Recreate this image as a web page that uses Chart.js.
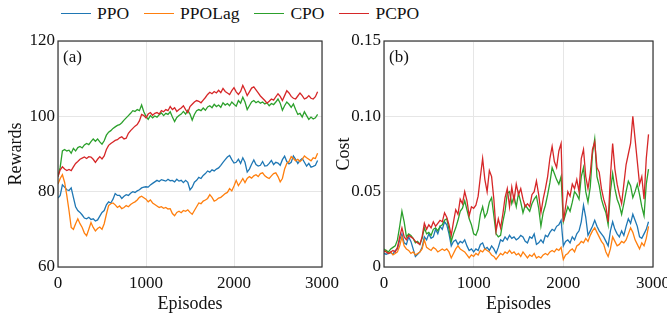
<!DOCTYPE html>
<html lang="en">
<head>
    <meta charset="UTF-8">
    <title>Rewards and Cost</title>
    <style>
        body, html {
            margin: 0;
            padding: 0;
            width: 667px;
            height: 321px;
            overflow: hidden;
            background: #fff;
            font-family: 'Liberation Serif', 'Times New Roman', serif;
        }
        #legend {
            position: absolute;
            top: 3px;
            left: 61px;
            display: flex;
            align-items: center;
            font-size: 17.5px;
            color: #111;
        }
        .item { display: flex; align-items: center; margin-right: 15px; }
        .swatch { width: 30px; height: 1.6px; margin-right: 6px; }
        .panel { position: absolute; top: 0; }
    </style>
</head>
<body>

<div id="legend"></div>
<div class="panel" style="left:0"><canvas id="rewardChart" width="345" height="321"></canvas></div>
<div class="panel" style="left:333px"><canvas id="costChart" width="345" height="321"></canvas></div>

<script src="https://cdn.jsdelivr.net/npm/chart.js"></script>
<script>
    // sampled every 25 episodes, 0..2950
    const episodes = Array.from({ length: 119 }, (_, i) => i * 25);

    const seriesNames = ['PPO', 'PPOLag', 'CPO', 'PCPO'];
    const seriesColors = ['#1f77b4', '#ff7f0e', '#2ca02c', '#d62728'];

    const rewardPPO = [
        78.3, 79, 81.8, 81.2, 80.5, 80.3, 81, 78.5, 76, 75, 74.5, 73.8, 73, 72.8, 73.2, 72.6, 72.8, 72.2, 72.5, 73.5,
        74.5, 75, 76.5, 77.3, 77, 78, 79.5, 79, 79, 78.2, 78.8, 79.2, 79, 79.6, 80, 79.8, 80.2, 80.5, 81, 81.2,
        81.3, 81.2, 81.8, 82.2, 82.6, 83, 82.7, 83.2, 83, 82.8, 83.3, 82.9, 83, 82.6, 83.3, 82.8, 83, 82.4, 83, 82.5,
        80.5, 81.2, 82.5, 83, 83.8, 83.5, 84.3, 84.8, 85.5, 85.2, 85.8, 85.5, 86, 86.3, 87, 87.8, 88.5, 89.2, 89.6, 88.5,
        87.6, 87.8, 88.6, 87.5, 89, 87.8, 85.2, 86, 87.3, 88.4, 87.2, 86.8, 87, 88, 86.8, 86.9, 87.5, 88.3, 87.2, 87.8,
        87.6, 87, 88.5, 89.4, 88, 87.4, 87.8, 89.5, 88.6, 87.5, 88.3, 88.8, 87.8, 86.8, 87.5, 86.5, 86.7, 87, 88.3
    ];
    const rewardPPOLag = [
        82, 83.5, 84.5, 82.5, 79, 75, 70.5, 70, 71.5, 72.8, 71.5, 70.5, 69, 68.3, 70, 71.8, 70.5, 69.6, 70.2, 70.6,
        70, 71.5, 74, 76.3, 76.8, 77, 76.5, 75.8, 76.2, 75.5, 75.8, 76.3, 76, 76.6, 77, 77.3, 77.8, 78.5, 78.8, 78.4,
        78, 77.3, 77.8, 77, 76.6, 76.2, 75.8, 76, 75.6, 75.8, 75.4, 75.5, 74.2, 73.6, 74.5, 74.8, 74.4, 75, 74.8, 75.2,
        74.5, 74, 75, 76, 77, 76.8, 77.5, 77.8, 78.2, 79.2, 78.5, 77.5, 77.8, 78.3, 78.5, 79, 79.5, 79.8, 80.8, 80.2,
        81.5, 83, 81.6, 82.5, 83.5, 82.4, 83.5, 84, 83.6, 84.2, 84.5, 84, 84.8, 85, 84.2, 83.8, 83.5, 84.2, 84.8, 85,
        84, 82.6, 83.5, 86, 87.5, 88, 89.3, 88.8, 88.2, 88.6, 88, 88.5, 89.5, 89, 88.6, 88.2, 89, 88.8, 90.2
    ];
    const rewardCPO = [
        84, 86.5, 90.8, 91.2, 90.8, 91, 90.2, 91.5, 90.8, 91.7, 92, 91.6, 92.4, 92.8, 92.5, 93.3, 94, 93.4, 94, 93.2,
        92.6, 93.5, 95, 95.8, 96.2, 96.8, 97.2, 97.6, 97.8, 98.3, 99, 99.6, 100.2, 100.8, 101.5, 101.3, 101.8, 101.5, 103, 101.2,
        100, 99.2, 100.2, 99.6, 100.1, 99.8, 100.4, 100.9, 100.2, 100.8, 100.5, 101.2, 99.8, 98.6, 99.7, 100.2, 100.6, 101.3, 100.6, 101.6,
        100.6, 99, 100.5, 101.5, 101.8, 101.5, 102.2, 101.6, 102.5, 102.8, 102.3, 103.2, 102.6, 103, 102.4, 103.6, 103, 103.4, 102.8, 103.8,
        103.2, 102.7, 104.2, 103.5, 105.1, 103.8, 101.8, 102.8, 103.8, 104.2, 103.6, 104, 103.5, 103.8, 103.3, 103.6, 102.8, 103.4, 103.1, 103.8,
        104.6, 103.5, 101.6, 102.8, 103.8, 103.2, 102.4, 103.3, 101.8, 100.5, 100.8, 99.8, 101.2, 100.2, 99.2, 99.8, 99.3, 99.6, 100.5
    ];
    const rewardPCPO = [
        84, 85.8, 86.6, 86, 85.6, 85.9, 85.6, 86.6, 87.5, 88, 88.6, 88.9, 89.2, 88.8, 89.3, 89.2, 88.6, 87.8, 88.6, 89.3,
        88.7, 89.5, 91.2, 92.3, 92.8, 93.2, 93.6, 93.8, 94.3, 94.6, 94, 94.2, 95.5, 96.2, 96.8, 97.4, 97.8, 98.8, 100.5, 100.2,
        99.6, 100.6, 101, 100.3, 100.8, 101, 100.6, 101.5, 101.2, 101.8, 101.5, 102.6, 101.8, 102.3, 101.3, 101.8, 102.2, 102.8, 101.8, 101,
        102.6, 103.2, 103.8, 104.2, 104, 103.6, 104.3, 105, 105.8, 106.4, 106, 106.6, 106.2, 106.9, 106.3, 107.4, 106.6, 106.2, 105.8, 106.8,
        107.6, 106.5, 105.8, 106.6, 108.2, 107, 105.5, 106.5, 107.5, 107.8, 107, 106.2, 105.4, 104.8, 104.2, 103.5, 104, 104.6, 104.3, 105.2,
        106, 105.3, 104.2, 105.5, 106.8, 106.2, 105.3, 104.8, 104.6, 105.4, 106.2, 105.5, 104.6, 104.9, 105.5, 104.8, 104.6, 105.2, 106.5
    ];

    const costPPO = [
        .009, .0085, .009, .0095, .0085, .011, .012, .018, .022, .016, .015, .02, .017, .012, .007, .0085, .01, .013, .02, .018,
        .022, .019, .02, .025, .022, .027, .025, .03, .028, .022, .014, .017, .018, .015, .017, .016, .018, .014, .011, .012,
        .01, .012, .011, .015, .016, .012, .013, .011, .014, .012, .009, .013, .018, .017, .02, .018, .021, .019, .02, .018,
        .019, .021, .02, .017, .016, .02, .019, .022, .015, .016, .018, .016, .021, .02, .023, .025, .024, .027, .028, .031,
        .014, .017, .018, .016, .02, .018, .022, .024, .03, .041, .033, .021, .024, .027, .031, .027, .024, .022, .02, .017,
        .014, .024, .03, .025, .022, .02, .024, .021, .027, .032, .029, .035, .031, .027, .02, .019, .022, .025, .03
    ];
    const costPPOLag = [
        .01, .011, .009, .01, .008, .009, .01, .014, .02, .014, .012, .011, .009, .01, .008, .009, .01, .012, .018, .013,
        .012, .011, .013, .012, .01, .011, .012, .011, .012, .01, .006, .009, .012, .014, .012, .011, .01, .008, .006, .008,
        .007, .009, .008, .011, .01, .012, .011, .01, .008, .007, .005, .007, .009, .008, .01, .009, .011, .009, .01, .008,
        .009, .007, .01, .008, .006, .008, .007, .009, .006, .007, .006, .008, .009, .008, .01, .011, .01, .012, .011, .013,
        .005, .008, .009, .011, .012, .01, .014, .015, .017, .016, .019, .017, .021, .024, .026, .023, .02, .017, .015, .01,
        .007, .012, .02, .017, .014, .015, .017, .016, .018, .022, .026, .023, .018, .015, .012, .016, .014, .019, .027
    ];
    const costCPO = [
        .012, .011, .01, .012, .013, .014, .018, .027, .037, .03, .02, .022, .021, .019, .016, .017, .015, .019, .026, .022,
        .023, .021, .025, .026, .024, .027, .028, .031, .032, .025, .017, .022, .026, .031, .037, .039, .044, .038, .032, .028,
        .022, .021, .025, .035, .04, .033, .036, .043, .046, .034, .022, .02, .021, .03, .037, .049, .05, .042, .047, .04,
        .049, .043, .036, .041, .039, .037, .042, .045, .047, .039, .027, .036, .041, .048, .056, .066, .062, .058, .055, .06,
        .03, .035, .04, .037, .043, .05, .048, .045, .06, .066, .05, .043, .053, .075, .085, .06, .054, .045, .04, .036,
        .028, .05, .062, .052, .045, .041, .035, .042, .05, .057, .054, .046, .05, .055, .048, .04, .034, .055, .065
    ];
    const costPCPO = [
        .011, .01, .009, .01, .011, .01, .013, .02, .026, .02, .018, .021, .02, .019, .017, .016, .015, .02, .029, .025,
        .028, .026, .03, .027, .029, .031, .03, .036, .033, .028, .021, .03, .038, .035, .045, .042, .05, .044, .034, .04,
        .039, .041, .047, .06, .072, .058, .05, .064, .06, .045, .024, .032, .026, .035, .046, .052, .04, .053, .044, .055,
        .048, .052, .045, .04, .042, .04, .048, .05, .057, .048, .036, .045, .052, .06, .072, .08, .07, .066, .077, .082,
        .03, .04, .05, .047, .055, .052, .058, .05, .072, .078, .06, .052, .062, .078, .083, .066, .063, .052, .045, .04,
        .03, .06, .082, .065, .055, .048, .042, .055, .068, .075, .082, .1, .085, .07, .055, .06, .045, .072, .088
    ];

    const serif = "'Liberation Serif', 'Times New Roman', serif";
    Chart.defaults.font.family = serif;
    Chart.defaults.color = '#111';

    // legend across the top
    const legendEl = document.getElementById('legend');
    seriesNames.forEach((name, i) => {
        const item = document.createElement('div');
        item.className = 'item';
        item.innerHTML = '<span class="swatch" style="background:' + seriesColors[i] + '"></span>' + name;
        legendEl.appendChild(item);
    });

    // frame around the plot area + panel tag like (a)
    const framePlugin = {
        id: 'frame',
        afterDraw(chart, args, opts) {
            const { ctx, chartArea: a } = chart;
            ctx.save();
            ctx.strokeStyle = '#333';
            ctx.lineWidth = 1.2;
            ctx.strokeRect(a.left, a.top, a.right - a.left, a.bottom - a.top);
            ctx.fillStyle = '#111';
            ctx.font = '17px ' + serif;
            ctx.textBaseline = 'alphabetic';
            ctx.fillText(opts.tag, a.left + 5, a.top + 21);
            ctx.restore();
        }
    };

    function makeDatasets(values) {
        return values.map((vals, i) => ({
            label: seriesNames[i],
            data: vals.map((v, j) => ({ x: episodes[j], y: v })),
            borderColor: seriesColors[i],
            borderWidth: 1.3,
            pointRadius: 0,
            fill: false,
            order: 3 - i
        }));
    }

    function makeChart(canvasId, values, tag, yTitle, yMin, yMax, yStep, yWidth, yTitlePad, padRight, tickFmt) {
        return new Chart(document.getElementById(canvasId), {
            type: 'line',
            data: { datasets: makeDatasets(values) },
            plugins: [framePlugin],
            options: {
                responsive: false,
                animation: false,
                layout: { padding: { top: 41, right: padRight, left: 0, bottom: 0 } },
                plugins: {
                    legend: { display: false },
                    tooltip: { enabled: false },
                    frame: { tag: tag }
                },
                scales: {
                    x: {
                        type: 'linear',
                        min: 0,
                        max: 3000,
                        afterFit: s => { s.height = 54; },
                        ticks: { stepSize: 1000, font: { size: 17 }, padding: 6, maxRotation: 0, callback: v => String(v) },
                        grid: { color: '#e6e6e6', drawTicks: false },
                        border: { display: false },
                        title: { display: true, text: 'Episodes', font: { size: 18 }, padding: { top: 0, bottom: 6 } }
                    },
                    y: {
                        min: yMin,
                        max: yMax,
                        afterFit: s => { s.width = yWidth; },
                        ticks: { stepSize: yStep, font: { size: 17 }, padding: 3, callback: tickFmt },
                        grid: { color: '#e6e6e6', drawTicks: false },
                        border: { display: false },
                        title: { display: true, text: yTitle, font: { size: 18 }, padding: { top: yTitlePad, bottom: 0 } }
                    }
                }
            }
        });
    }

    makeChart('rewardChart', [rewardPPO, rewardPPOLag, rewardCPO, rewardPCPO], '(a)', 'Rewards',
        60, 120, 20, 58, 5, 20, v => String(v));
    makeChart('costChart', [costPPO, costPPOLag, costCPO, costPCPO], '(b)', 'Cost',
        0, 0.15, 0.05, 51, 0, 25, v => (v === 0 ? '0' : v.toFixed(2)));
</script>

</body>
</html>
